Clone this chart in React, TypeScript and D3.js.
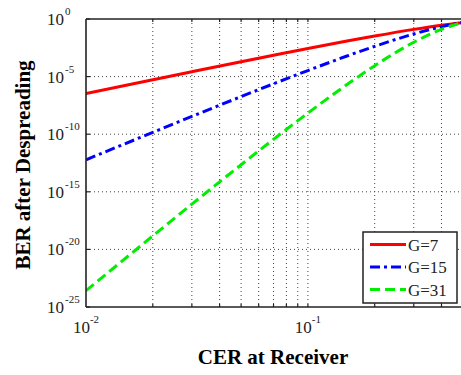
import React from 'react';
import * as d3 from 'd3';

// CER values and BER (log-log)
const cer = [0.01, 0.02, 0.03, 0.05, 0.07, 0.1, 0.15, 0.2, 0.3, 0.4, 0.5];
const berG7 = [3.42e-7, 5.34e-6, 2.64e-5, 1.94e-4, 7.07e-4, 2.73e-3, 1.21e-2, 3.33e-2, 0.126, 0.29, 0.5];
const berG15 = [6.05e-13, 1.45e-10, 3.5e-9, 1.83e-7, 2.37e-6, 3.36e-5, 6.1e-4, 4.24e-3, 0.05, 0.213, 0.5];
const berG31 = [2.61e-24, 1.48e-19, 8.42e-17, 2.23e-13, 3.6e-11, 6.85e-9, 2.03e-6, 8.82e-5, 9.54e-3, 0.128, 0.5];

const seriesNames = ['G=7', 'G=15', 'G=31'];
const xTickExps = [-2, -1];
const yTickExps = [0, -5, -10, -15, -20, -25];
const xMinor = [0.02, 0.03, 0.04, 0.05, 0.06, 0.07, 0.08, 0.09, 0.1, 0.2, 0.3, 0.4];

const W = 461, H = 375;
const L = 86, R = 463, T = 19, B = 307;
const font = '"Liberation Serif", "Times New Roman", serif';

const App = () => {
  const x = d3.scaleLog().domain([0.01, 0.5]).range([L, R]);
  const y = d3.scaleLog().domain([1e-25, 1]).range([B, T]);

  const line = d3.line<number>()
    .x((_, i) => x(cer[i]))
    .y(d => y(d))
    .curve(d3.curveMonotoneX);

  const styles = [
    { color: '#ff0000', dash: undefined },
    { color: '#0000ff', dash: '10,4,3,4' },
    { color: '#00ee00', dash: '10,5' },
  ];
  const data = [berG7, berG15, berG31];

  return (
    <svg width={W} height={H} style={{ position: 'absolute', left: 0, top: 0, background: '#fff' }}>
      <defs>
        <clipPath id="plot">
          <rect x={L} y={T - 2} width={R - L} height={B - T + 2} />
        </clipPath>
      </defs>
      {/* grid */}
      <g stroke="#444" strokeWidth={1} strokeDasharray="1,3">
        {xMinor.map(v => (
          <line key={'gx' + v} x1={x(v)} x2={x(v)} y1={T} y2={B} />
        ))}
        {yTickExps.slice(1, -1).map(e => (
          <line key={'gy' + e} x1={L} x2={R} y1={y(Math.pow(10, e))} y2={y(Math.pow(10, e))} />
        ))}
      </g>
      {/* ticks */}
      <g stroke="#222" strokeWidth={1.2}>
        {xMinor.map(v => (
          <g key={'tx' + v}>
            <line x1={x(v)} x2={x(v)} y1={B} y2={B - 3} />
            <line x1={x(v)} x2={x(v)} y1={T} y2={T + 3} />
          </g>
        ))}
        {yTickExps.map(e => (
          <line key={'ty' + e} x1={L} x2={L + 4} y1={y(Math.pow(10, e))} y2={y(Math.pow(10, e))} />
        ))}
      </g>
      {/* curves */}
      <g clipPath="url(#plot)">
        {data.map((d, i) => (
          <path key={i} d={line(d) || ''} fill="none" stroke={styles[i].color}
            strokeWidth={3} strokeDasharray={styles[i].dash} />
        ))}
      </g>
      {/* axes box */}
      <g stroke="#222" strokeWidth={1.6} fill="none">
        <line x1={L} x2={R} y1={B} y2={B} />
        <line x1={L} x2={R} y1={T} y2={T} />
        <line x1={L} x2={L} y1={T} y2={B} />
      </g>
      {/* y tick labels */}
      <g fontFamily={font} fill="#222">
        {yTickExps.map(e => {
          const yy = y(Math.pow(10, e));
          return (
            <g key={'ly' + e}>
              <text x={64} y={yy + 6} fontSize={17} textAnchor="end">10</text>
              <text x={65} y={yy - 4} fontSize={11}>{e}</text>
            </g>
          );
        })}
        {xTickExps.map(e => (
          <text key={'lx' + e} x={x(Math.pow(10, e))} y={333} fontSize={17} textAnchor="middle">
            10<tspan fontSize={11} dy={-10}>{e}</tspan>
          </text>
        ))}
      </g>
      {/* axis titles */}
      <text x={273} y={364} fontFamily={font} fontSize={21} fontWeight="bold" textAnchor="middle">
        CER at Receiver
      </text>
      <text transform="translate(30,165) rotate(-90)" fontFamily={font} fontSize={21}
        fontWeight="bold" textAnchor="middle">
        BER after Despreading
      </text>
      {/* legend */}
      <g>
        <rect x={363} y={232} width={94} height={71} fill="#fff" stroke="#222" strokeWidth={1.5} />
        {seriesNames.map((n, i) => {
          const yy = 244.5 + i * 22.5;
          return (
            <g key={n}>
              <line x1={370} x2={406} y1={yy} y2={yy} stroke={styles[i].color} strokeWidth={3}
                strokeDasharray={styles[i].dash} />
              <text x={408} y={yy + 6} fontFamily={font} fontSize={17} fill="#222">{n}</text>
            </g>
          );
        })}
      </g>
    </svg>
  );
};

export default App;
